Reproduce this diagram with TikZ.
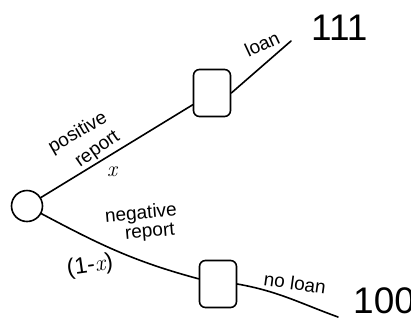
\documentclass[tikz,border=0pt]{standalone}
\usepackage{fontspec}
\setmainfont{Liberation Sans}
\newfontfamily\lmvar{Latin Modern Roman}
\newcommand{\pvar}{{\lmvar\itshape x}}
\begin{document}
\begin{tikzpicture}[x=1pt,y=-1pt,
  edge/.style={line width=1.6pt, line cap=round},
  chance/.style={circle, draw, line width=1.6pt, minimum size=31pt, inner sep=0pt},
  choice/.style={rectangle, draw, line width=1.6pt, minimum width=37pt, minimum height=47pt, inner sep=0pt, rounded corners=6pt},
  lbl/.style={font=\fontsize{19}{19}\selectfont, inner sep=0pt},
  pay/.style={font=\fontsize{37}{37}\selectfont, inner sep=0pt, anchor=base west}]
\useasboundingbox (0,0) rectangle (411,322);
% chance node and the two decision nodes
\node[chance] (c) at (27,206) {};
\node[choice] (d1) at (212,93) {};
\node[choice] (d2) at (218,284) {};
\coordinate (e1) at (291,41);
\coordinate (e2) at (338,317);
% branches
\draw[edge] (c) -- (d1);
\draw[edge] (d1.east) -- (e1);
\draw[edge] (c) to[out=-28,in=165] (d2);
\draw[edge] (d2.east) to[out=-10,in=160] (e2);
% branch labels
\node[lbl, rotate=30] (pos) at (78,133) {positive};
\node[lbl, rotate=35] (rep1) at (98,150) {report};
\node[font=\fontsize{22}{22}\selectfont, inner sep=0pt] (px) at (112,172) {\pvar};
\node[lbl, rotate=5] (neg) at (141,214) {negative};
\node[lbl, rotate=5] (rep2) at (150,233) {report};
\node[font=\fontsize{23}{23}\selectfont, inner sep=0pt, rotate=8] (q) at (90,266) {(1-\pvar)};
\node[lbl, rotate=25] (ln) at (262,44) {loan};
\node[lbl, rotate=-8] (nl) at (295,283) {no loan};
% payoffs
\node[pay] (p1) at (311,40) {111};
\node[pay] (p2) at (353,313) {100};
\end{tikzpicture}
\end{document}
